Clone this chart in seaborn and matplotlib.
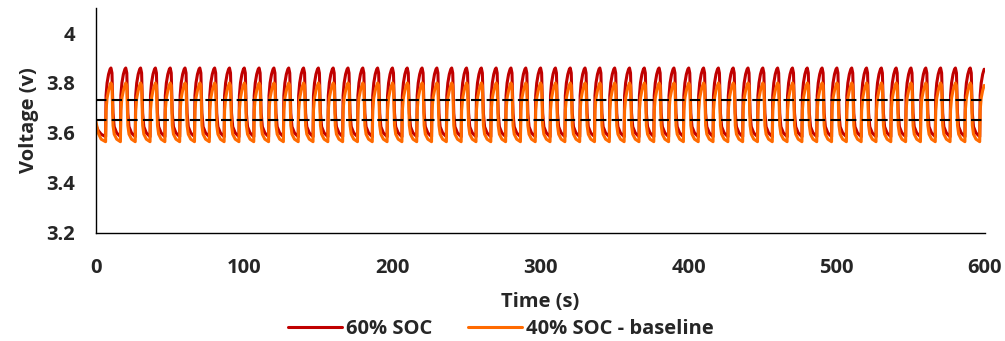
import numpy as np
import pandas as pd
import matplotlib
matplotlib.use("Agg")
import matplotlib.pyplot as plt
import seaborn as sns

# ---- data ----
period_s = 10.0
first_rise_s = 6.5
end_s = 600
# one pulse cycle (seconds after the voltage rise)
cycle_t = [0.0, 0.3, 1.0, 2.0, 3.0, 3.6, 4.3, 5.0, 5.8, 7.5, 9.99]
soc60_cycle = [3.585, 3.75, 3.80, 3.835, 3.855, 3.86, 3.84, 3.68, 3.625, 3.60, 3.585]
soc40_cycle = [3.565, 3.69, 3.74, 3.77, 3.79, 3.80, 3.79, 3.63, 3.595, 3.575, 3.565]
# initial discharge segment before the first pulse
start_t = [0.0, 1.5, 3.5, 6.49]
soc60_start = [3.63, 3.61, 3.595, 3.585]
soc40_start = [3.645, 3.60, 3.575, 3.565]
ref_levels = [3.73, 3.65]
series_names = ["60% SOC", "40% SOC - baseline"]
colors = ["#C00000", "#FF6A00"]
x_ticks = [0, 100, 200, 300, 400, 500, 600]
y_ticks = [3.2, 3.4, 3.6, 3.8, 4.0]

# ---- build long-form table by repeating the observed cycle ----
rises = np.arange(first_rise_s, end_s, period_s)
t_all = list(start_t)
v60 = list(soc60_start)
v40 = list(soc40_start)
for r in rises:
    for dt, a, b in zip(cycle_t, soc60_cycle, soc40_cycle):
        t = r + dt
        if t > end_s:
            break
        t_all.append(t); v60.append(a); v40.append(b)
df = pd.concat([
    pd.DataFrame({"t": t_all, "v": v60, "s": series_names[0]}),
    pd.DataFrame({"t": t_all, "v": v40, "s": series_names[1]}),
])

sns.set_theme(style="white")
plt.rcParams["font.family"] = ["Open Sans", "DejaVu Sans"]

FS = 14.5
fig = plt.figure(figsize=(10.05, 3.41), dpi=100)
ax = fig.add_axes([0.0955, 0.317, 0.8845, 0.6595])

sns.lineplot(data=df, x="t", y="v", hue="s", palette=colors, hue_order=series_names,
             linewidth=2.2, ax=ax, estimator=None, sort=False)
for lv in ref_levels:
    ax.axhline(lv, color="black", linewidth=1.5, linestyle=(0, (5, 2.5)), zorder=5)

ax.set_xlim(0, 600)
ax.set_ylim(3.2, 4.1)
ax.set_xticks(x_ticks)
ax.set_yticks(y_ticks)
ax.set_xticklabels([str(v) for v in x_ticks], fontsize=FS, fontweight="bold")
ax.set_yticklabels([f"{v:g}" for v in y_ticks], fontsize=FS, fontweight="bold")
ax.tick_params(axis="x", length=0, pad=18)
ax.tick_params(axis="y", length=0, pad=15)
ax.set_xlabel("Time (s)", fontsize=FS, fontweight="bold", labelpad=10)
ax.set_ylabel("Voltage (v)", fontsize=FS, fontweight="bold", labelpad=5)
for side in ["top", "right"]:
    ax.spines[side].set_visible(False)
for side in ["left", "bottom"]:
    ax.spines[side].set_color("black")
    ax.spines[side].set_linewidth(1.0)

ax.legend_.remove()
handles = [plt.Line2D([], [], color=c, linewidth=2.2) for c in colors]
fig.legend(handles, series_names, loc="center", bbox_to_anchor=(0.4985, 0.036),
           ncol=2, frameon=False, prop={"weight": "bold", "size": FS},
           handlelength=2.7, columnspacing=1.75, handletextpad=0.2,
           borderpad=0, borderaxespad=0)

fig.savefig("out.png", dpi=100)
